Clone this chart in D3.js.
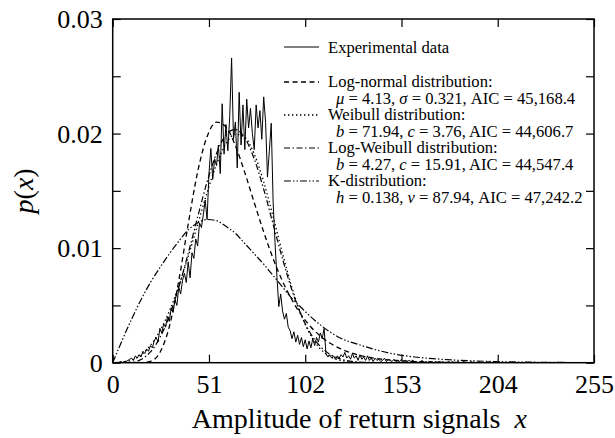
<!DOCTYPE html>
<html><head><meta charset="utf-8">
<script src="https://cdn.jsdelivr.net/npm/d3@7"></script>
<style>body{margin:0;background:#fff}svg{display:block}</style>
</head><body><svg id="c" width="615" height="438"></svg>
<script>
// ---------- data ----------
const xTicks = [0, 51, 102, 153, 204, 255];
const yTicks = [0, 0.005, 0.01, 0.015, 0.02, 0.025, 0.03];
const yLabelTicks = [0, 0.01, 0.02, 0.03];

// experimental histogram, one value per amplitude 0..255
const expX = d3.range(0, 256);
const expY = [
 0,0,0,0,0.0001,0,0.0001,0.0001,0.0002,
 0.0003,0.0004,0.0002,0.0006,0.0004,0.0007,0.0005,0.0010,0.0008,0.0012,0.0010,0.0015,
 0.0013,0.0019,0.0022,0.0018,0.0030,0.0026,0.0034,0.0031,0.0040,0.0036,
 0.0048,0.0044,0.0055,0.0050,0.0066,0.0060,0.0072,0.0078,0.0070,0.0088,
 0.0074,0.0096,0.0091,0.0108,0.0102,0.0122,0.0118,0.0129,0.0142,0.0125,
 0.0165,0.0187,0.0160,0.0178,0.0172,0.0190,0.0165,0.0226,0.0182,0.0208,
 0.0185,0.0215,0.0266,0.0195,0.0210,0.0170,0.0236,0.0190,0.0225,0.0186,
 0.0230,0.0205,0.0222,0.0200,0.0186,0.0225,0.0205,0.0220,0.0195,0.0232,
 0.0210,0.0162,0.0185,0.0209,0.0140,0.0105,0.0075,0.0049,0.0060,0.0045,
 0.0038,0.0043,0.0031,0.0028,0.0021,0.0027,0.0018,0.0024,0.0016,0.0022,
 0.0014,0.0020,0.0012,0.0019,0.0013,0.0021,0.0015,0.0022,0.0018,0.0026,
 0.0021,0.0030,0.0008,0.0005,0.0007,0.0004,0.0006,0.0003,0.0006,0.0004,
 0.0007,0.0005,0.0009,0.0004,0.0006,0.0003,0.0008,0.0004,0.0006,0.0002,
 0.0007,0.0003,0.0005,0.0002,0.0006,0.0002,0.0004,0.0001,0.0004,0.0002,
 0.0003,0.0001,0.0002,0.0004,0.0001,0.0003,0.0002,0.0001,0.0003,0.0001,
 0.0002,0.0001,0.0003,0.0001,0.0002,0.0001,0.0002,0.0001,0.0002,0.0001,
 0.0001,0,0.0001,0.0002,0,0.0001,0,0.0001,0.0001,0,
 0.0001,0,0.0001,0,0.0001,0,0,0.0001,0,0.0001,
 0,0,0.0001,0,0,0.0001,0,0,0,0.0001,
 0,0,0,0.0001,0,0,0,0,0.0001,0,
 0,0,0,0,0,0,0,0,0,0,
 0,0,0,0,0,0,0,0,0,0,
 0,0,0,0,0,0,0,0,0,0,
 0,0,0,0,0,0,0,0,0,0,
 0,0,0,0,0,0,0,0,0,0,
 0,0,0,0,0
];

// fitted curves, read at these amplitudes
const fitX = [0,10,15,20,25,30,35,40,45,50,55,60,65,70,75,80,85,90,95,100,105,110,115,120,130,140,150,160,170,180,200,220,255];
const logNormal = [0,0,0.000005,0.00012,0.00089,0.00314,0.00715,0.01209,0.01665,0.01973,0.0210,0.02058,0.01894,0.01659,0.01397,0.01141,0.00909,0.0071,0.00547,0.00415,0.00312,0.00233,0.00172,0.001275,0.00068,0.000362,0.000192,0.000102,0.000054,0.000029,0.00001,0.000003,0];
const weibull = [0,0.000225,0.000688,0.001514,0.002775,0.0045,0.006695,0.00927,0.01206,0.01484,0.0173,0.01911,0.01996,0.01966,0.01821,0.01578,0.01274,0.00952,0.00654,0.00413,0.00235,0.00121,0.000557,0.000228,0.000026,0.000002,0,0,0,0,0,0,0];
const logWeibull = [0,0.000037,0.000279,0.000941,0.00218,0.00406,0.00657,0.00954,0.01272,0.01577,0.01826,0.01987,0.02036,0.01962,0.01778,0.01514,0.01208,0.00905,0.00632,0.00412,0.0025,0.00142,0.00074,0.00036,0.000065,0.00001,0,0,0,0,0,0,0];
const kDist = [0,0.0038,0.0055,0.0070,0.0083,0.0095,0.0106,0.0116,0.0122,0.0125,0.0124,0.0119,0.0113,0.0104,0.0095,0.0086,0.0076,0.0066,0.0056,0.0048,0.0040,0.0033,0.0027,0.0022,0.0016,0.0011,0.00073,0.0005,0.00035,0.00024,0.00011,0.00005,0.00001];

const legendLines = [
  "Experimental data",
  "Log-normal distribution:",
  "_μ_ = 4.13, _σ_ = 0.321, AIC = 45,168.4",
  "Weibull distribution:",
  "_b_ = 71.94, _c_ = 3.76, AIC = 44,606.7",
  "Log-Weibull distribution:",
  "_b_ = 4.27, _c_ = 15.91, AIC = 44,547.4",
  "K-distribution:",
  "_h_ = 0.138, _ν_ = 87.94, AIC = 47,242.2"
];
const xTitle = "Amplitude of return signals";

// ---------- drawing ----------
const FONT = "'Liberation Serif','Times New Roman',Times,serif";
const svg = d3.select("#c");
const L = 112.7, R = 594, T = 19, B = 362.7;
const x = d3.scaleLinear().domain([0, 255]).range([L, R]);
const y = d3.scaleLinear().domain([0, 0.03]).range([B, T]);

svg.append("defs").append("clipPath").attr("id", "clip")
  .append("rect").attr("x", L).attr("y", T).attr("width", R - L).attr("height", B - T);

const TS = 8;
const axB = svg.append("g").attr("transform", `translate(0,${B})`)
  .call(d3.axisBottom(x).tickValues(xTicks).tickSize(-TS).tickPadding(12).tickFormat(d3.format("d")));
const axT = svg.append("g").attr("transform", `translate(0,${T})`)
  .call(d3.axisTop(x).tickValues(xTicks).tickSize(-TS).tickFormat(""));
const fmtY = d => (yLabelTicks.some(v => Math.abs(v - d) < 1e-9) ? (d === 0 ? "0" : d3.format(".2f")(d)) : "");
const axL = svg.append("g").attr("transform", `translate(${L},0)`)
  .call(d3.axisLeft(y).tickValues(yTicks).tickSize(-TS).tickPadding(10).tickFormat(fmtY));
const axR = svg.append("g").attr("transform", `translate(${R},0)`)
  .call(d3.axisRight(y).tickValues(yTicks).tickSize(-TS).tickFormat(""));
[axB, axT, axL, axR].forEach(g => {
  g.attr("font-family", null);
  g.select(".domain").remove();
  g.selectAll(".tick line").attr("stroke", "#000").attr("stroke-width", 1.2);
  g.selectAll(".tick text").attr("fill", "#000").style("font-family", FONT).style("font-size", "26px");
});
axL.selectAll(".tick text").attr("dy", "0.34em");

// curves
const g = svg.append("g").attr("clip-path", "url(#clip)");
const line = d3.line().x(d => x(d[0])).y(d => y(d[1]));
const smooth = d3.line().x(d => x(d[0])).y(d => y(d[1])).curve(d3.curveMonotoneX);
const styles = {
  exp: { w: 1, dash: null },
  ln: { w: 1.3, dash: "5,3.5" },
  wb: { w: 1.3, dash: "1.4,2.6" },
  lw: { w: 1.2, dash: "6,2.5,1.5,2.5" },
  k: { w: 1.2, dash: "7,2,1.5,2,1.5,2" }
};
function draw(path, st) {
  g.append("path").attr("d", path).attr("fill", "none").attr("stroke", "#000")
    .attr("stroke-width", st.w).attr("stroke-dasharray", st.dash);
}
draw(smooth(fitX.map((v, i) => [v, kDist[i]])), styles.k);
draw(smooth(fitX.map((v, i) => [v, logWeibull[i]])), styles.lw);
draw(smooth(fitX.map((v, i) => [v, weibull[i]])), styles.wb);
draw(smooth(fitX.map((v, i) => [v, logNormal[i]])), styles.ln);
draw(line(expX.map((v, i) => [v, expY[i]])), styles.exp);

// frame
svg.append("rect").attr("x", L).attr("y", T).attr("width", R - L).attr("height", B - T)
  .attr("fill", "none").attr("stroke", "#000").attr("stroke-width", 1.5);

// legend
function richText(sel, str) {
  str.split("_").forEach((part, i) => {
    if (!part) return;
    sel.append("tspan").text(part).style("font-style", i % 2 ? "italic" : "normal");
  });
}
const legBase = [53, 87, 103.5, 120, 136.5, 153, 169.5, 186, 203];
const legSample = { 0: ["exp", 47], 1: ["ln", 82], 3: ["wb", 115], 5: ["lw", 148], 7: ["k", 181] };
const leg = svg.append("g").style("font-family", FONT).style("font-size", "16.6px");
legendLines.forEach((s, i) => {
  const t = leg.append("text").attr("x", s.startsWith("_") ? 336 : 328).attr("y", legBase[i]).attr("fill", "#000");
  richText(t, s);
  if (legSample[i]) {
    const [k, yy] = legSample[i];
    leg.append("line").attr("x1", 284).attr("x2", 319).attr("y1", yy).attr("y2", yy)
      .attr("stroke", "#000").attr("stroke-width", styles[k].w).attr("stroke-dasharray", styles[k].dash);
  }
});

// axis titles
const xt = svg.append("text").attr("x", (L + R) / 2 + 6).attr("y", 428).attr("text-anchor", "middle")
  .style("font-family", FONT).style("font-size", "28px").attr("fill", "#000");
xt.append("tspan").text(xTitle + "\u00a0\u00a0");
xt.append("tspan").text("x").style("font-style", "italic");

const yt = svg.append("text").attr("transform", `translate(33,${(T + B) / 2}) rotate(-90)`)
  .attr("text-anchor", "middle").style("font-family", FONT).style("font-size", "28px").attr("fill", "#000");
yt.append("tspan").text("p").style("font-style", "italic");
yt.append("tspan").text("(");
yt.append("tspan").text("x").style("font-style", "italic");
yt.append("tspan").text(")");
</script></body></html>
